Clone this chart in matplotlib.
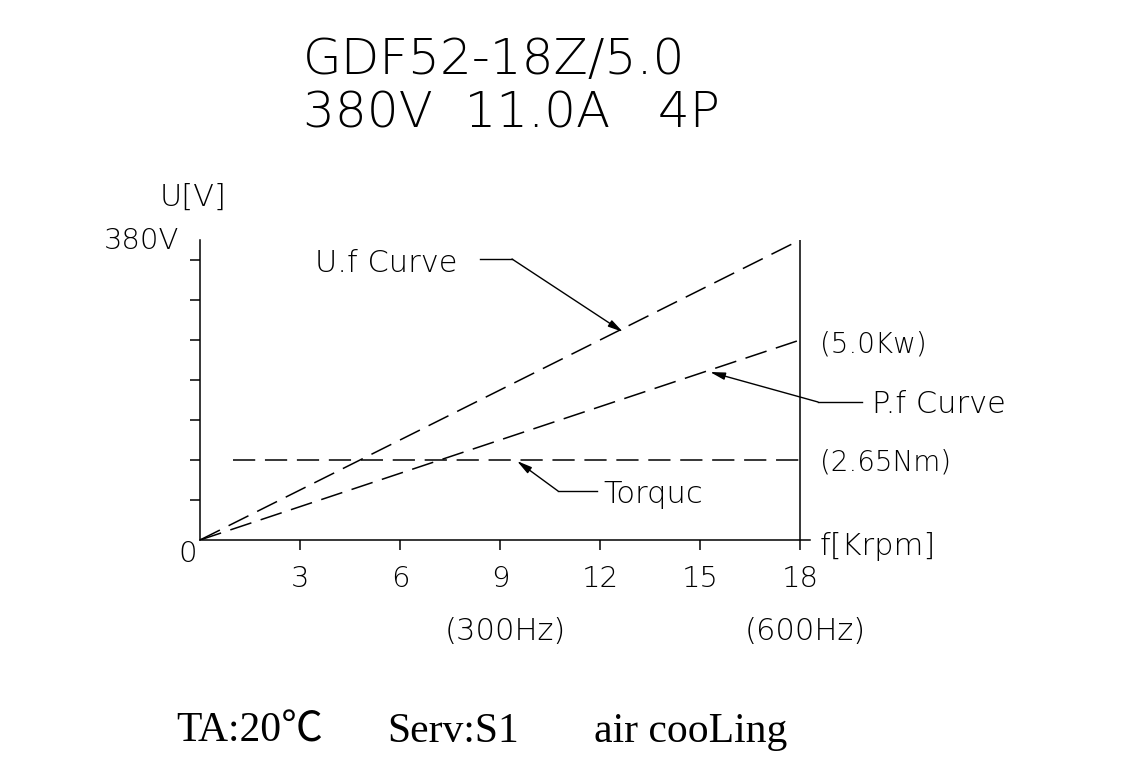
import matplotlib
matplotlib.use("Agg")
import matplotlib.pyplot as plt

W, H = 1129, 773

# --- data ---
speed_krpm = [0, 18]
u_volts = [0, 380]
p_speed = [0, 18]
p_kw = [0, 5.0]
t_speed = [1, 18]
t_nm = [2.65, 2.65]

x_ticks = [3, 6, 9, 12, 15, 18]
y_ticks = [1, 2, 3, 4, 5, 6, 7]

# each quantity has its own scale on the same grid (divisions)
U_SCALE = 7.5 / 380
P_SCALE = 5 / 5.0
T_SCALE = 2 / 2.65

CAD = dict(family="DejaVu Sans", fontweight=200, color="black")
SERIF = ["Liberation Serif", "Noto Sans CJK SC"]


def px(x, y):
    # pixel position on the sheet -> figure fraction
    return x / W, 1 - y / H


def dx(x):
    return (x - 200) * 3 / 100


def dy(y):
    return (540 - y) / 40


plt.rcParams["lines.scale_dashes"] = False
fig = plt.figure(figsize=(W / 100, H / 100), dpi=100)
ax = fig.add_axes([200 / W, (H - 540) / H, 610 / W, 300 / H])
ax.set_xlim(0, 18.3)
ax.set_ylim(0, 7.5)

for s in ["top", "right"]:
    ax.spines[s].set_visible(False)
for s in ["left", "bottom"]:
    ax.spines[s].set_linewidth(1.1)
ax.axvline(18, color="black", lw=1.1)

ax.set_xticks(x_ticks)
ax.set_xticklabels([str(t) for t in x_ticks], fontsize=21, **CAD)
ax.set_yticks(y_ticks)
ax.set_yticklabels([])
ax.tick_params(direction="out", length=7.2, width=1.1, pad=11)

dash = (16, 7)
ax.plot(speed_krpm, [v * U_SCALE for v in u_volts], color="black", lw=1.1, dashes=dash)
ax.plot(p_speed, [v * P_SCALE for v in p_kw], color="black", lw=1.1, dashes=dash)
ax.plot(t_speed, [v * T_SCALE for v in t_nm], color="black", lw=1.1, dashes=dash)

# leader lines with arrows
arrow = dict(arrowstyle="-|>,head_length=0.9,head_width=0.22", color="black", lw=1.0,
             shrinkA=0, shrinkB=0)
leaders = [
    ((480, 259), (512, 259), (623, 332)),
    ((862, 402), (818, 402), (710, 372)),
    ((597, 491), (558, 491), (517, 461)),
]
for a, b, tip in leaders:
    ax.plot([dx(a[0]), dx(b[0])], [dy(a[1]), dy(b[1])], color="black", lw=1.0, clip_on=False)
    ax.annotate("", xy=(dx(tip[0]), dy(tip[1])), xytext=(dx(b[0]), dy(b[1])),
                arrowprops=arrow, annotation_clip=False)

# titles
fig.text(*px(303, 74), "GDF52-18Z/5.0", fontsize=36, va="baseline", **CAD)
fig.text(*px(303, 128), "380V  11.0A   4P", fontsize=36, va="baseline", **CAD)

# labels around the plot
fig.text(*px(160, 206), "U[V]", fontsize=22, va="baseline", **CAD)
fig.text(*px(104, 249), "380V", fontsize=21, va="baseline", **CAD)
fig.text(*px(178, 562), "0", fontsize=21, va="baseline", **CAD)
fig.text(*px(315, 272), "U.f Curve", fontsize=22, va="baseline", **CAD)
fig.text(*px(872, 413), "P.f Curve", fontsize=22, va="baseline", **CAD)
fig.text(*px(603, 503), "Torquc", fontsize=22, va="baseline", **CAD)
fig.text(*px(820, 352), "(5.0Kw)", fontsize=20, va="baseline", **CAD)
fig.text(*px(820, 470), "(2.65Nm)", fontsize=20, va="baseline", **CAD)
fig.text(*px(820, 555), "f[Krpm]", fontsize=22, va="baseline", **CAD)
fig.text(*px(505, 640), "(300Hz)", fontsize=22, va="baseline", ha="center", **CAD)
fig.text(*px(805, 640), "(600Hz)", fontsize=22, va="baseline", ha="center", **CAD)

# bottom note
fig.text(*px(176, 742), "TA:20℃", fontsize=30, family=SERIF, va="baseline")
fig.text(*px(387, 742), "Serv:S1", fontsize=30, family=SERIF, va="baseline")
fig.text(*px(594, 742), "air cooLing", fontsize=30, family=SERIF, va="baseline")

fig.savefig("out.png", dpi=100, facecolor="white")
